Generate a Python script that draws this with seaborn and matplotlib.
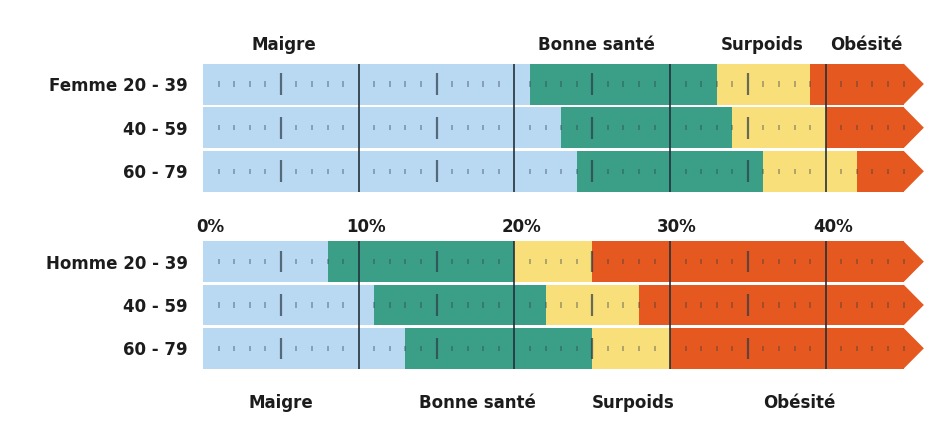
import numpy as np
import pandas as pd
import matplotlib
matplotlib.use('Agg')
import matplotlib.pyplot as plt
import seaborn as sns
from matplotlib.transforms import ScaledTranslation

# Upper bound (%) of each class
femme_ages = ['Femme 20 - 39', '40 - 59', '60 - 79']
femme_maigre = [21, 23, 24]
femme_bonne = [33, 34, 36]
femme_surpoids = [39, 40, 42]

homme_ages = ['Homme 20 - 39', '40 - 59', '60 - 79']
homme_maigre = [8, 11, 13]
homme_bonne = [20, 22, 25]
homme_surpoids = [25, 28, 30]

bar_end = [45, 45, 45]

categories = ['Maigre', 'Bonne santé', 'Surpoids', 'Obésité']
colors = ['#b9d8f1', '#3b9f87', '#f8df7a', '#e5581f']

x_ticks = [0, 10, 20, 30, 40]
x_labels = ['0%', '10%', '20%', '30%', '40%']

# where the class names sit (in % along the axis)
top_label_pos = [5.2, 25.3, 35.9, 42.6]
bottom_label_pos = [5.0, 17.6, 27.6, 38.3]

sns.set_style('white')
plt.rcParams['font.family'] = ['DejaVu Sans']
text_color = '#1c1c1c'


def draw_group(ax, ages, maigre, bonne, surpoids):
    df = pd.DataFrame({'age': ages, 'Maigre': maigre, 'Bonne santé': bonne,
                       'Surpoids': surpoids, 'Obésité': bar_end})
    # stacked look: longest (cumulative) bar first, shorter ones on top
    for cat, col in reversed(list(zip(categories, colors))):
        sns.barplot(data=df, x=cat, y='age', orient='h', color=col, saturation=1,
                    width=0.94, edgecolor='none', linewidth=0, ax=ax)
    # arrow tip at the end of each bar
    for i, end in enumerate(df['Obésité']):
        ax.fill([end, end + 1.3, end], [i - 0.47, i, i + 0.47], color=colors[-1], lw=0, zorder=2)

    # ruler marks inside the bars
    minor = [v for v in range(1, 46) if v % 5 or v == 45]
    mid = [5, 15, 25, 35]
    major = [10, 20, 30, 40]
    for i in range(len(ages)):
        ax.vlines(minor, i - 0.06, i + 0.06, color='#2a3a48', alpha=0.42, lw=1.2, zorder=3)
        ax.vlines(mid, i - 0.25, i + 0.25, color='#2a3a48', alpha=0.7, lw=1.6, zorder=3)
    ax.vlines(major, -0.47, len(ages) - 0.53, color='#25313b', lw=1.2, zorder=3)

    ax.set_xlim(0, 46.5)
    ax.set_ylim(len(ages) - 0.5, -0.5)
    ax.set_xlabel('')
    ax.set_ylabel('')
    sns.despine(ax=ax, left=True, bottom=True)
    ax.tick_params(axis='y', length=0, pad=11, labelsize=12, labelcolor=text_color)
    for t in ax.get_yticklabels():
        t.set_fontweight('bold')


fig = plt.figure(figsize=(9.32, 4.32), dpi=100)
ax_top = fig.add_axes([0.2178, 0.553, 0.7768, 0.303])
ax_bot = fig.add_axes([0.2178, 0.1435, 0.7768, 0.301])

draw_group(ax_top, femme_ages, femme_maigre, femme_bonne, femme_surpoids)
draw_group(ax_bot, homme_ages, homme_maigre, homme_bonne, homme_surpoids)

# percentage scale between the two groups
ax_top.set_xticks(x_ticks)
ax_top.set_xticklabels(x_labels, fontsize=12, fontweight='bold', color=text_color)
ax_top.tick_params(axis='x', length=0, pad=18)
shift = ScaledTranslation(7 / 100, 0, fig.dpi_scale_trans)
for t in ax_top.get_xticklabels():
    t.set_transform(t.get_transform() + shift)
ax_bot.set_xticks([])

for cat, x in zip(categories, top_label_pos):
    ax_top.text(x, 1.13, cat, transform=ax_top.get_xaxis_transform(), ha='center', va='center',
                fontsize=12, fontweight='bold', color=text_color)
for cat, x in zip(categories, bottom_label_pos):
    ax_bot.text(x, -0.25, cat, transform=ax_bot.get_xaxis_transform(), ha='center', va='center',
                fontsize=12, fontweight='bold', color=text_color)

fig.savefig('out.png', dpi=100)
